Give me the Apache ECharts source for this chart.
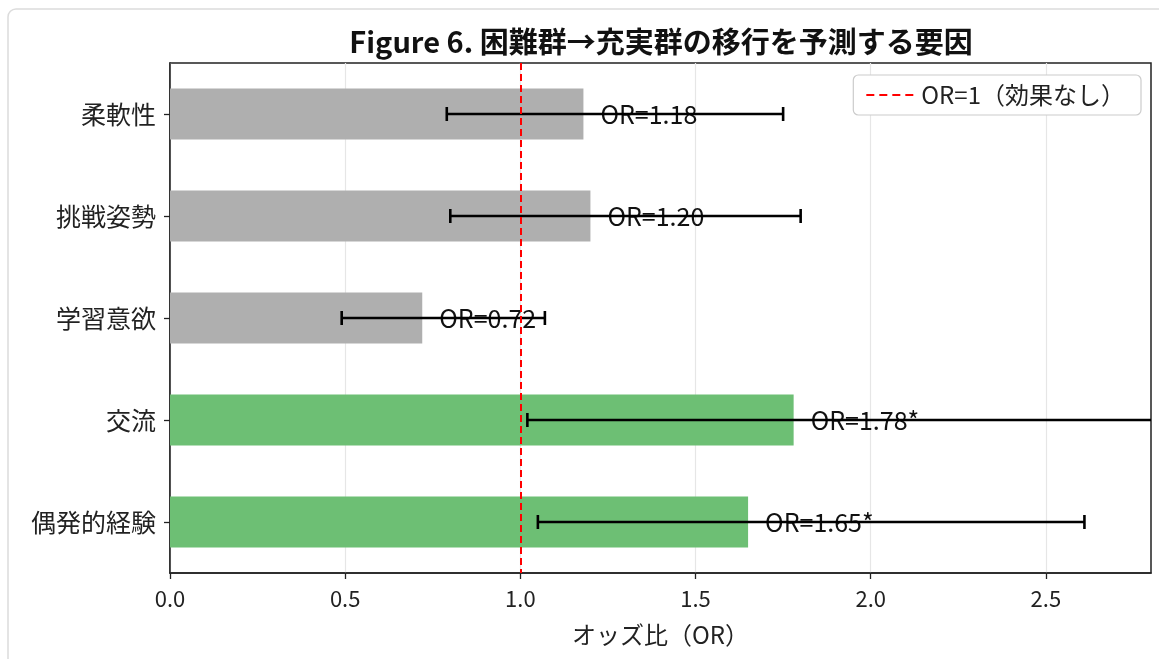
<!DOCTYPE html>
<html>
<head>
<meta charset="utf-8">
<script src="https://cdn.jsdelivr.net/npm/echarts@6/dist/echarts.min.js"></script>
<style>
  html, body { margin: 0; padding: 0; background: #ffffff; }
  #chart { width: 1159px; height: 659px; }
</style>
</head>
<body>
<div id="chart"></div>
<script>
// Predictors of moving from the struggling group to the fulfilled group
const categories = ['柔軟性', '挑戦姿勢', '学習意欲', '交流', '偶発的経験'];
const oddsRatios = [1.18, 1.20, 0.72, 1.78, 1.65];
const ciLower = [0.79, 0.80, 0.49, 1.02, 1.05];
const ciUpper = [1.75, 1.80, 1.07, 3.12, 2.61];
const significant = [false, false, false, true, true];
const xTicks = [0, 0.5, 1.0, 1.5, 2.0, 2.5];
const refLineValue = 1;
const refLineName = 'OR=1（効果なし）';

const FONT = '"Noto Sans CJK JP", "Noto Sans", sans-serif';
const GRAY = '#afafaf';
const GREEN = '#6dbf74';

const chart = echarts.init(document.getElementById('chart'));

const barData = oddsRatios.map((v, i) => ({
  value: v,
  itemStyle: { color: significant[i] ? GREEN : GRAY }
}));
const errData = oddsRatios.map((v, i) => [ciLower[i], ciUpper[i], i]);

chart.setOption({
  animation: false,
  backgroundColor: '#ffffff',
  textStyle: { fontFamily: FONT },
  graphic: [
    {
      type: 'rect', z: -10, silent: true,
      shape: { x: 8, y: 9, width: 1200, height: 700, r: 8 },
      style: { fill: '#ffffff', stroke: '#dcdcdc', lineWidth: 1.5 }
    },
    {
      type: 'text', silent: true,
      x: 661, y: 42,
      style: {
        text: 'Figure 6. 困難群→充実群の移行を予測する要因',
        fontFamily: FONT, fontSize: 29, fontWeight: 'bold',
        fill: '#111', align: 'center', verticalAlign: 'middle'
      }
    }
  ],
  legend: {
    right: 18, top: 75,
    data: [refLineName],
    itemWidth: 50, itemHeight: 14, itemGap: 10,
    backgroundColor: '#ffffff',
    borderColor: '#cccccc', borderWidth: 1.2, borderRadius: 5,
    padding: [8, 16, 8, 12],
    textStyle: { fontFamily: FONT, fontSize: 24, color: '#222' }
  },
  grid: {
    left: 170, right: 8, top: 63, bottom: 86,
    show: true, borderColor: '#222', borderWidth: 1.5, backgroundColor: 'transparent'
  },
  xAxis: {
    type: 'value', min: 0, max: 2.8, interval: 0.5,
    name: 'オッズ比（OR）', nameLocation: 'middle', nameGap: 50,
    nameTextStyle: { fontFamily: FONT, fontSize: 24, color: '#222' },
    axisLine: { show: true, lineStyle: { color: '#222', width: 1.5 } },
    axisTick: { show: true, length: 6, customValues: xTicks, lineStyle: { color: '#222', width: 1.3 } },
    axisLabel: {
      customValues: xTicks, margin: 15,
      fontFamily: FONT, fontSize: 22, color: '#222',
      formatter: v => v.toFixed(1)
    },
    splitLine: { show: true, lineStyle: { color: '#e6e6e6', width: 1.2 } }
  },
  yAxis: {
    type: 'category', inverse: true, data: categories,
    axisLine: { show: true, lineStyle: { color: '#222', width: 1.5 } },
    axisTick: { show: true, length: 6, alignWithLabel: true, lineStyle: { color: '#222', width: 1.3 } },
    axisLabel: { margin: 14, fontFamily: FONT, fontSize: 25, color: '#222' },
    splitLine: { show: false }
  },
  series: [
    {
      type: 'bar', name: 'OR', barWidth: '50%',
      data: barData,
      label: {
        show: true, position: 'right', distance: 17,
        fontFamily: FONT, fontSize: 25, color: '#111',
        formatter: p => 'OR=' + p.value.toFixed(2) + (significant[p.dataIndex] ? '*' : '')
      },
      z: 2
    },
    {
      type: 'custom', name: 'CI', clip: true, z: 3,
      data: errData,
      renderItem: (params, api) => {
        const lo = api.coord([api.value(0), api.value(2)]);
        const hi = api.coord([api.value(1), api.value(2)]);
        const cap = 7;
        const style = { stroke: '#000', lineWidth: 2.6, fill: null };
        return {
          type: 'group',
          children: [
            { type: 'line', shape: { x1: lo[0], y1: lo[1], x2: hi[0], y2: hi[1] }, style },
            { type: 'line', shape: { x1: lo[0], y1: lo[1] - cap, x2: lo[0], y2: lo[1] + cap }, style },
            { type: 'line', shape: { x1: hi[0], y1: hi[1] - cap, x2: hi[0], y2: hi[1] + cap }, style }
          ]
        };
      }
    },
    {
      type: 'line', name: refLineName, data: [], symbol: 'none',
      lineStyle: { color: '#ff0000', type: [8, 5], width: 2 },
      itemStyle: { color: 'rgba(0,0,0,0)', borderWidth: 0 },
      markLine: {
        silent: true, symbol: ['none', 'none'],
        label: { show: false },
        lineStyle: { color: '#ff0000', type: [7, 4], width: 2 },
        data: [{ xAxis: refLineValue }]
      },
      z: 4
    }
  ]
});
</script>
</body>
</html>
